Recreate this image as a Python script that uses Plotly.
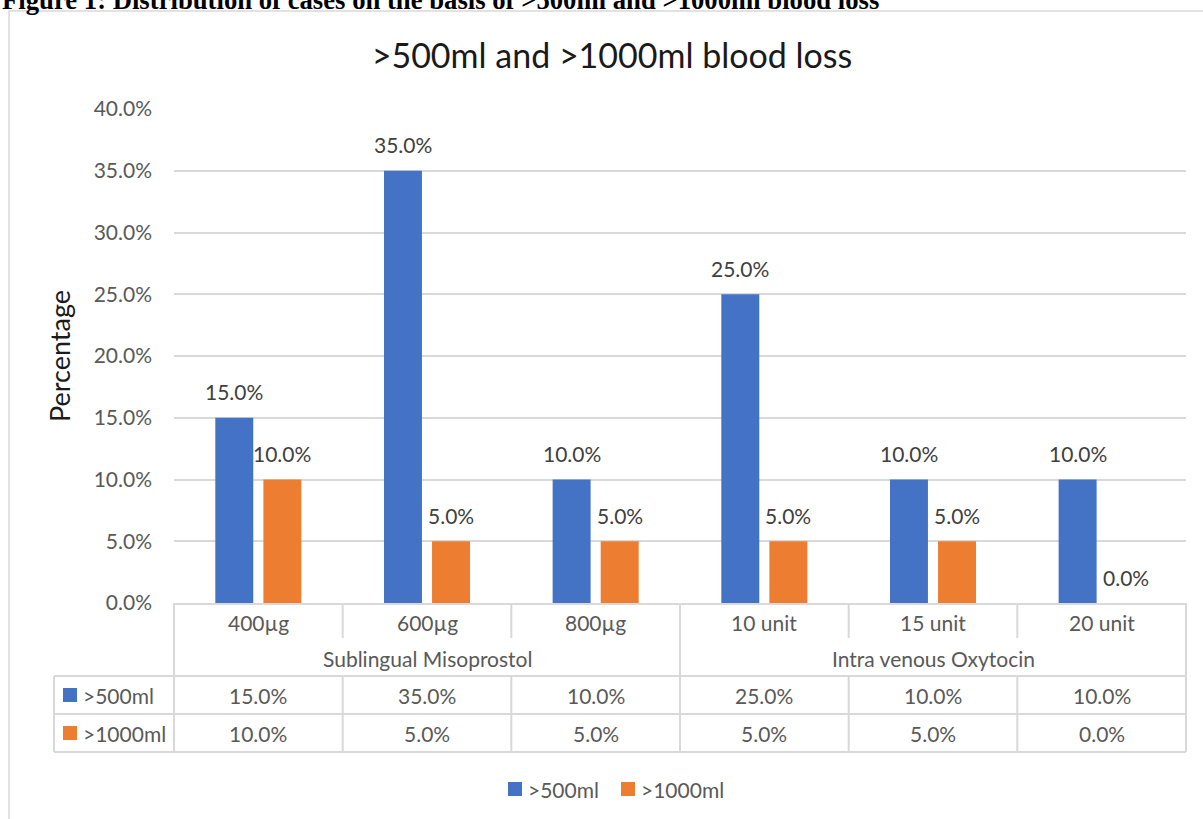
import plotly.graph_objects as go

# ---------------- data ----------------
categories = ["400µg", "600µg", "800µg", "10 unit", "15 unit", "20 unit"]
groups = ["Sublingual Misoprostol", "Intra venous Oxytocin"]
group_members = [[0, 1, 2], [3, 4, 5]]
series_names = [">500ml", ">1000ml"]
vals_500 = [0.15, 0.35, 0.10, 0.25, 0.10, 0.10]
vals_1000 = [0.10, 0.05, 0.05, 0.05, 0.05, 0.00]
series_values = [vals_500, vals_1000]
series_colors = ["#4472C4", "#ED7D31"]
y_ticks = [0, 0.05, 0.10, 0.15, 0.20, 0.25, 0.30, 0.35, 0.40]

chart_title = ">500ml and >1000ml blood loss"
caption = "Figure 1: Distribution of cases on the basis of &gt;500ml and &gt;1000ml blood loss"
y_title = "Percentage"

# ---------------- layout geometry (pixels) ----------------
W, H = 1203, 819
PL, PR, PT, PB = 174, 1186, 109, 603
FONT = "Lato, Carlito, Calibri, sans-serif"
FS = 21
GRID = "#d9d9d9"
TXT = "#595959"


def px_x(px):
    return (px - PL) / (PR - PL)


def px_y(py):
    return (PB - py) / (PB - PT)


fig = go.Figure()
for name, vals, col in zip(series_names, series_values, series_colors):
    fig.add_trace(go.Bar(x=list(range(len(categories))), y=vals, name=name,
                         marker=dict(color=col, line=dict(width=0)),
                         hoverinfo="skip", showlegend=False))

annotations = []
shapes = []

# data labels above bars
offsets = [-24, 24]
for s, vals in enumerate(series_values):
    for i, v in enumerate(vals):
        annotations.append(dict(x=i, y=v, xref="x", yref="y", text=f"{v:.1%}",
                                showarrow=False, xshift=offsets[s], yshift=26,
                                yanchor="middle", xanchor="center",
                                font=dict(family=FONT, size=FS, color="#404040")))

# category row
for i, c in enumerate(categories):
    annotations.append(dict(x=i, y=px_y(622), xref="x", yref="paper", text=c,
                            showarrow=False, yanchor="middle",
                            font=dict(family=FONT, size=FS, color=TXT)))
# group row
for g, mem in zip(groups, group_members):
    annotations.append(dict(x=sum(mem) / len(mem), y=px_y(658), xref="x", yref="paper",
                            text=g, showarrow=False, yanchor="middle",
                            font=dict(family=FONT, size=FS, color=TXT)))
# data rows with legend keys
row_y = [695, 733]
for s, vals in enumerate(series_values):
    for i, v in enumerate(vals):
        annotations.append(dict(x=i, y=px_y(row_y[s]), xref="x", yref="paper",
                                text=f"{v:.1%}", showarrow=False, yanchor="middle",
                                font=dict(family=FONT, size=FS, color=TXT)))
    annotations.append(dict(x=px_x(81), y=px_y(row_y[s]), xref="paper", yref="paper",
                            text=series_names[s], showarrow=False, xanchor="left",
                            yanchor="middle", font=dict(family=FONT, size=FS, color=TXT)))
    shapes.append(dict(type="rect", xref="paper", yref="paper",
                       x0=px_x(63), x1=px_x(77), y0=px_y(row_y[s] + 7), y1=px_y(row_y[s] - 7),
                       fillcolor=series_colors[s], line=dict(width=0)))

# bottom legend
leg_x = [508, 621]
for s, name in enumerate(series_names):
    shapes.append(dict(type="rect", xref="paper", yref="paper",
                       x0=px_x(leg_x[s]), x1=px_x(leg_x[s] + 14),
                       y0=px_y(796), y1=px_y(782),
                       fillcolor=series_colors[s], line=dict(width=0)))
    annotations.append(dict(x=px_x(leg_x[s] + 18), y=px_y(789), xref="paper", yref="paper",
                            text=name, showarrow=False, xanchor="left", yanchor="middle",
                            font=dict(family=FONT, size=FS, color=TXT)))

# table lines
LW = 2


def hline(y, x0, x1):
    shapes.append(dict(type="line", xref="paper", yref="paper", x0=px_x(x0), x1=px_x(x1),
                       y0=px_y(y), y1=px_y(y), line=dict(color=GRID, width=LW)))


for yy in [676, 714, 752]:
    hline(yy, 54, PR)
for xx in [PL, PR]:
    shapes.append(dict(type="line", xref="paper", yref="paper", x0=px_x(xx), x1=px_x(xx),
                       y0=px_y(603), y1=px_y(752), line=dict(color=GRID, width=LW)))
shapes.append(dict(type="line", xref="paper", yref="paper", x0=px_x(54), x1=px_x(54),
                   y0=px_y(676), y1=px_y(752), line=dict(color=GRID, width=LW)))
group_bounds = [mem[-1] + 0.5 for mem in group_members[:-1]]
for k in range(1, len(categories)):
    b = k - 0.5
    segs = [(603, 752)] if b in group_bounds else [(603, 638), (676, 752)]
    for y0, y1 in segs:
        shapes.append(dict(type="line", xref="x", yref="paper", x0=b, x1=b,
                           y0=px_y(y0), y1=px_y(y1), line=dict(color=GRID, width=LW)))

# chart border
shapes.append(dict(type="rect", xref="paper", yref="paper", x0=px_x(9), x1=px_x(1230),
                   y0=px_y(840), y1=px_y(11), line=dict(color=GRID, width=1.5),
                   fillcolor="rgba(0,0,0,0)", layer="below"))

# caption (cut off at top, as in the source page)
annotations.append(dict(x=px_x(0), y=px_y(17), xref="paper", yref="paper", text=f"<b>{caption}</b>",
                        showarrow=False, xanchor="left", yanchor="bottom",
                        font=dict(family="Liberation Serif, Times New Roman, serif", size=26.7,
                                  color="#000000")))

fig.update_layout(
    width=W, height=H,
    margin=dict(l=PL, r=W - PR, t=PT, b=H - PB, autoexpand=False),
    paper_bgcolor="white", plot_bgcolor="white",
    barmode="group", bargap=0.43, bargroupgap=0.21,
    title=dict(text=chart_title, x=612 / W, xref="container", xanchor="center",
               y=1 - 56 / H, yref="container", yanchor="middle",
               font=dict(family=FONT, size=34, color="#1a1a1a")),
    xaxis=dict(type="linear", range=[-0.5, len(categories) - 0.5], showticklabels=False,
               showgrid=False, zeroline=False, showline=True, linecolor=GRID, linewidth=2,
               ticks=""),
    yaxis=dict(range=[0, 0.4], tickvals=y_ticks, tickformat=".1%", showgrid=True,
               gridcolor=GRID, gridwidth=1.5, zeroline=False, showline=False, ticks="",
               ticklabelstandoff=21,
               tickfont=dict(family=FONT, size=FS, color=TXT),
               title=dict(text=y_title, standoff=15,
                          font=dict(family=FONT, size=27, color="#1a1a1a"))),
    showlegend=False,
    annotations=annotations, shapes=shapes,
)

fig.write_html("out.html", config={"displayModeBar": False},
               post_script="document.body.style.margin='0';")
